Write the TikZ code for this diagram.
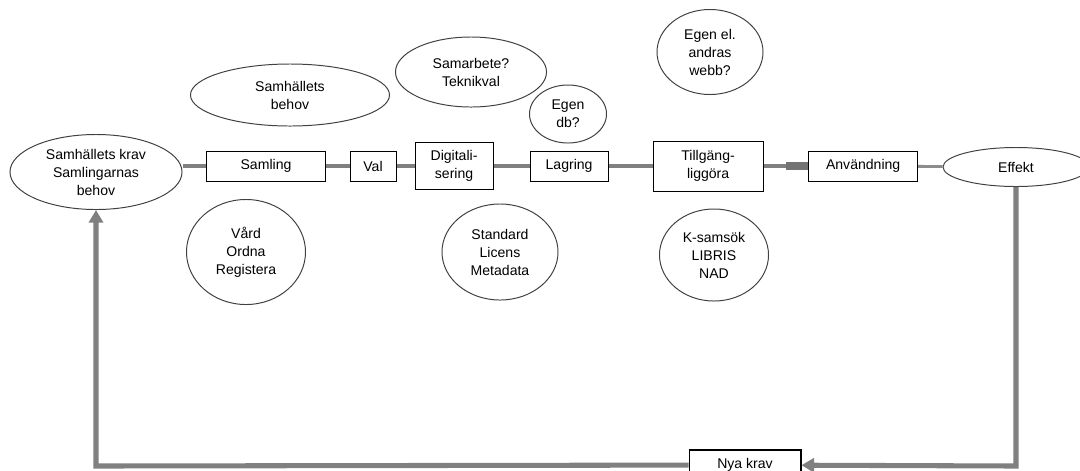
\documentclass[tikz,border=0pt]{standalone}
\usepackage{fontspec}
\setmainfont{Liberation Sans}
\usetikzlibrary{shapes.geometric,arrows.meta}

\begin{document}
\begin{tikzpicture}[x=0.025cm,y=-0.025cm,
  font=\fontsize{10}{12.8}\selectfont,
  box/.style={draw,line width=0.7pt,inner sep=0pt,align=center},
  bubble/.style={draw=black!75,line width=0.7pt,ellipse,inner sep=0pt,align=center},
  link/.style={draw=black!50,line width=2.8pt},
  thinlink/.style={draw=black!45,line width=2pt},
  plug/.style={draw=black!55,line width=6pt},
  back/.style={draw=black!50,line width=3.6pt,-{Triangle[length=9pt,width=10pt]}}]
  \useasboundingbox (0,0) rectangle (1080,470);
  \node (krav) [bubble,minimum width=4.3cm,minimum height=1.875cm] at (96,172) {Samhällets krav\\Samlingarnas\\behov};
  \node (samling) [box,minimum width=2.95cm,minimum height=0.75cm] at (266,166) {Samling};
  \node (val) [box,right of=samling,node distance=2.675cm,minimum width=1.15cm,minimum height=0.75cm] {Val};
  \node (dig) [box,right of=val,node distance=2.025cm,minimum width=1.95cm,minimum height=1.175cm] {Digitali-\\sering};
  \node (lagring) [box,right of=dig,node distance=2.875cm,minimum width=1.95cm,minimum height=0.75cm] {Lagring};
  \node (till) [box,right of=lagring,node distance=3.475cm,minimum width=2.75cm,minimum height=1.25cm] {Tillgäng-\\liggöra};
  \node (anv) [box,right of=till,node distance=3.875cm,minimum width=2.725cm,minimum height=0.75cm] {Användning};
  \node (effekt) [bubble,minimum width=3.65cm,minimum height=0.975cm] at (1016,167) {Effekt};
  \node (nya) [box,line width=1.4pt,minimum width=2.775cm,minimum height=0.75cm] at (745,465) {Nya krav};
  \node (behov) [bubble,minimum width=4.975cm,minimum height=1.55cm] at (290,95) {Samhällets\\behov};
  \node (samarbete) [bubble,minimum width=3.775cm,minimum height=1.75cm] at (471,72) {Samarbete?\\Teknikval};
  \node (egendb) [bubble,minimum width=1.925cm,minimum height=1.45cm] at (568,114) {Egen\\db?};
  \node (webb) [bubble,minimum width=2.65cm,minimum height=2.125cm] at (710,52) {Egen el.\\andras\\webb?};
  \node (vard) [bubble,minimum width=2.975cm,minimum height=2.625cm] at (246,252) {Vård\\Ordna\\Registera};
  \node (standard) [bubble,minimum width=2.9cm,minimum height=2.4cm] at (500,252) {Standard\\Licens\\Metadata};
  \node (ksamsok) [bubble,minimum width=2.725cm,minimum height=2.3cm] at (714,255) {K-samsök\\LIBRIS\\NAD};
  \coordinate (stub) at (786,166);
  \coordinate (dl) at (96,466);
  \coordinate (dr) at (1016,466);
  \draw[link] (krav.east |- samling) -- (samling)
              (samling) -- (val)
              (val) -- (dig)
              (dig) -- (lagring)
              (lagring) -- (till)
              (till) -- (anv);
  \draw[plug] (stub) -- (anv.west);
  \draw[thinlink] (anv) -- (effekt);
  \draw[back] (effekt) -- (dr) -- (nya);
  \draw[back] (nya) -- (dl) -- (krav);
\end{tikzpicture}
\end{document}
